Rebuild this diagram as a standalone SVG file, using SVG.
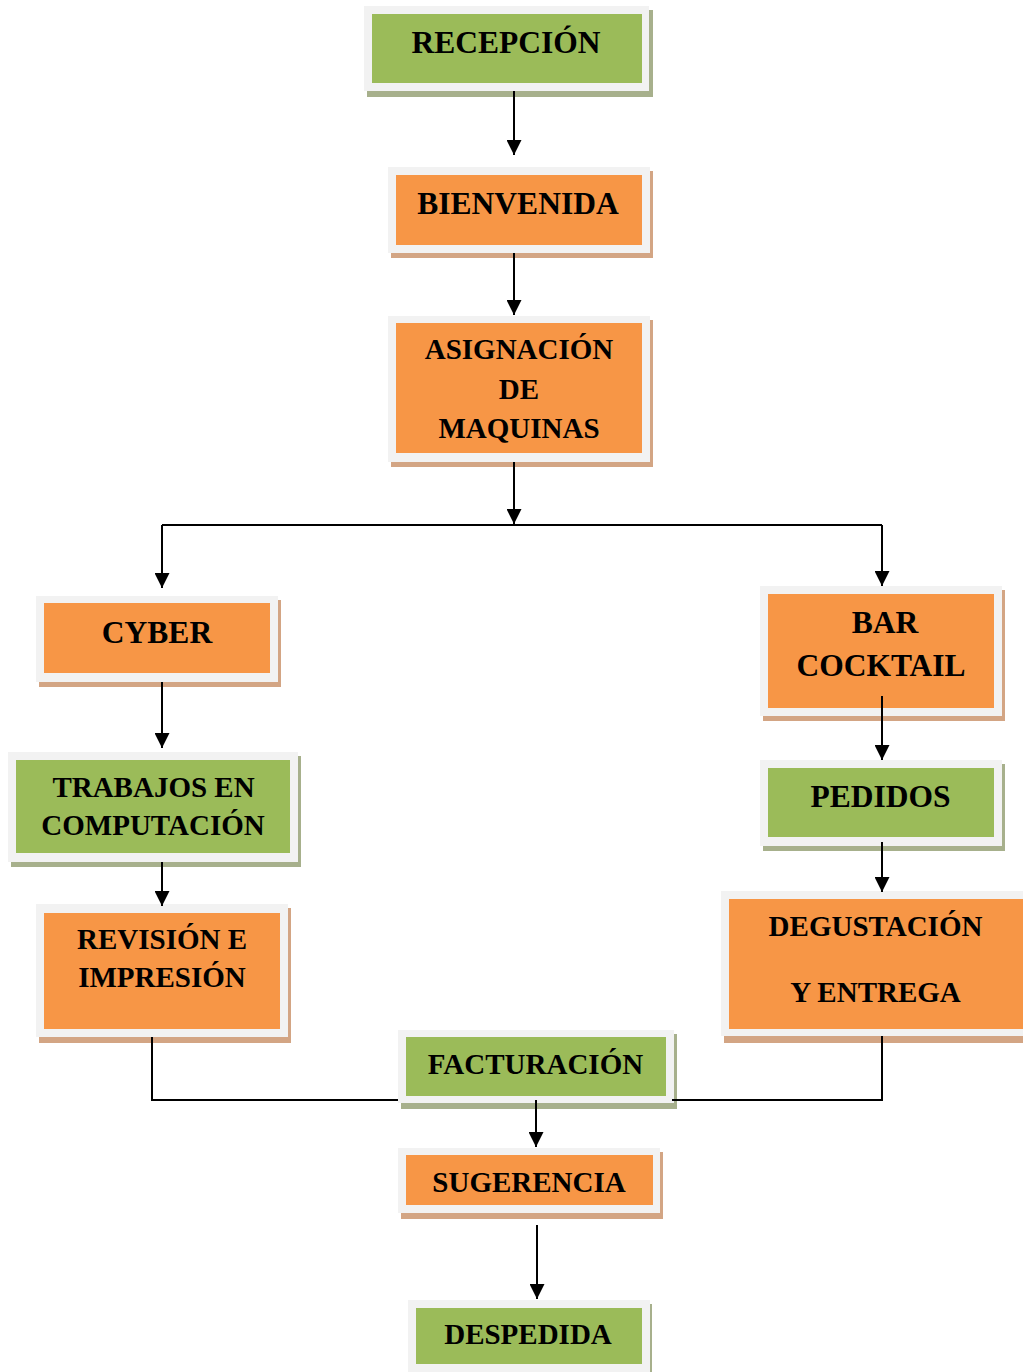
<svg xmlns="http://www.w3.org/2000/svg" width="1023" height="1372" viewBox="0 0 1023 1372">
<style>
.frame{fill:#f2f2f2}
.g{fill:#9bbb59}
.o{fill:#f79646}
.gs{fill:#a7b08c}
.os{fill:#d3a584}
text{font-family:"Liberation Serif","Times New Roman",serif;font-weight:bold;fill:#000;text-anchor:middle}
.big{font-size:31.5px}
.sm{font-size:29px}
.c{fill:none;stroke:#000;stroke-width:2}
</style>
<defs>
<marker id="ah" viewBox="0 0 16 16" refX="16" refY="8" markerWidth="15" markerHeight="15" markerUnits="userSpaceOnUse" orient="auto">
<path d="M0,0 L16,8 L0,16 z" fill="#000"/>
</marker>
</defs>
<rect width="1023" height="1372" fill="#fff"/>

<g id="recepcion">
<rect class="gs" x="367" y="10" width="286" height="87"/>
<rect class="frame" x="364" y="6" width="285" height="85"/>
<rect class="g" x="372" y="14" width="270" height="69"/>
<text class="big" x="506" y="53">RECEPCIÓN</text>
</g>

<g id="bienvenida">
<rect class="os" x="391" y="171" width="262" height="87"/>
<rect class="frame" x="388" y="167" width="262" height="86"/>
<rect class="o" x="396" y="175" width="246" height="70"/>
<text class="big" x="518" y="214">BIENVENIDA</text>
</g>

<g id="asignacion">
<rect class="os" x="391" y="320" width="262" height="147"/>
<rect class="frame" x="388" y="316" width="262" height="146"/>
<rect class="o" x="396" y="323" width="246" height="130"/>
<text class="sm" x="519" y="359">ASIGNACIÓN</text>
<text class="sm" x="519" y="399">DE</text>
<text class="sm" x="519" y="438">MAQUINAS</text>
</g>

<g id="cyber">
<rect class="os" x="39" y="600" width="242" height="87"/>
<rect class="frame" x="36" y="596" width="242" height="86"/>
<rect class="o" x="44" y="603" width="226" height="70"/>
<text class="big" x="157" y="643">CYBER</text>
</g>

<g id="trabajos">
<rect class="gs" x="11" y="756" width="290" height="111"/>
<rect class="frame" x="8" y="752" width="290" height="110"/>
<rect class="g" x="16" y="760" width="274" height="93"/>
<text class="sm" x="153.5" y="797">TRABAJOS EN</text>
<text class="sm" x="153" y="835">COMPUTACIÓN</text>
</g>

<g id="revision">
<rect class="os" x="39" y="908" width="252" height="135"/>
<rect class="frame" x="36" y="904" width="252" height="133"/>
<rect class="o" x="44" y="913" width="236" height="116"/>
<text class="sm" x="162" y="949">REVISIÓN E</text>
<text class="sm" x="162" y="987">IMPRESIÓN</text>
</g>

<g id="bar">
<rect class="os" x="763" y="590" width="242" height="131"/>
<rect class="frame" x="760" y="586" width="242" height="130"/>
<rect class="o" x="768" y="594" width="226" height="114"/>
<text class="big" x="885" y="633">BAR</text>
<text class="big" x="881" y="676">COCKTAIL</text>
</g>

<g id="pedidos">
<rect class="gs" x="763" y="764" width="242" height="87"/>
<rect class="frame" x="760" y="760" width="242" height="86"/>
<rect class="g" x="768" y="768" width="226" height="69"/>
<text class="big" x="880.5" y="807">PEDIDOS</text>
</g>

<g id="degustacion">
<rect class="os" x="724" y="895" width="302" height="148"/>
<rect class="frame" x="721" y="891" width="305" height="145"/>
<rect class="o" x="729" y="899" width="297" height="130"/>
<text class="sm" x="875.5" y="936">DEGUSTACIÓN</text>
<text class="sm" x="875.5" y="1002">Y ENTREGA</text>
</g>

<g id="facturacion">
<rect class="gs" x="401" y="1034" width="276" height="75"/>
<rect class="frame" x="398" y="1030" width="276" height="73"/>
<rect class="g" x="406" y="1037" width="260" height="59"/>
<text class="sm" x="535.5" y="1074">FACTURACIÓN</text>
</g>

<g id="sugerencia">
<rect class="os" x="401" y="1152" width="262" height="67"/>
<rect class="frame" x="398" y="1148" width="262" height="65"/>
<rect class="o" x="406" y="1155" width="247" height="50"/>
<text class="sm" x="529" y="1192">SUGERENCIA</text>
</g>

<g id="despedida">
<rect class="gs" x="411" y="1304" width="241" height="72"/>
<rect class="frame" x="408" y="1300" width="242" height="72"/>
<rect class="g" x="416" y="1308" width="226" height="56"/>
<text class="sm" x="528" y="1344">DESPEDIDA</text>
</g>

<g id="connectors">
<line class="c" x1="514" y1="91" x2="514" y2="155" marker-end="url(#ah)"/>
<line class="c" x1="514" y1="253" x2="514" y2="315" marker-end="url(#ah)"/>
<line class="c" x1="514" y1="462" x2="514" y2="524" marker-end="url(#ah)"/>
<path class="c" d="M162,525 H882"/>
<line class="c" x1="162" y1="525" x2="162" y2="588" marker-end="url(#ah)"/>
<line class="c" x1="882" y1="525" x2="882" y2="586" marker-end="url(#ah)"/>
<line class="c" x1="162" y1="682" x2="162" y2="748" marker-end="url(#ah)"/>
<line class="c" x1="162" y1="862" x2="162" y2="906" marker-end="url(#ah)"/>
<line class="c" x1="882" y1="696" x2="882" y2="760" marker-end="url(#ah)"/>
<line class="c" x1="882" y1="842" x2="882" y2="892" marker-end="url(#ah)"/>
<path class="c" d="M152,1037 V1100 H398"/>
<path class="c" d="M672,1100 H882 V1036"/>
<line class="c" x1="536" y1="1100" x2="536" y2="1147" marker-end="url(#ah)"/>
<line class="c" x1="537" y1="1225" x2="537" y2="1299" marker-end="url(#ah)"/>
</g>
</svg>
